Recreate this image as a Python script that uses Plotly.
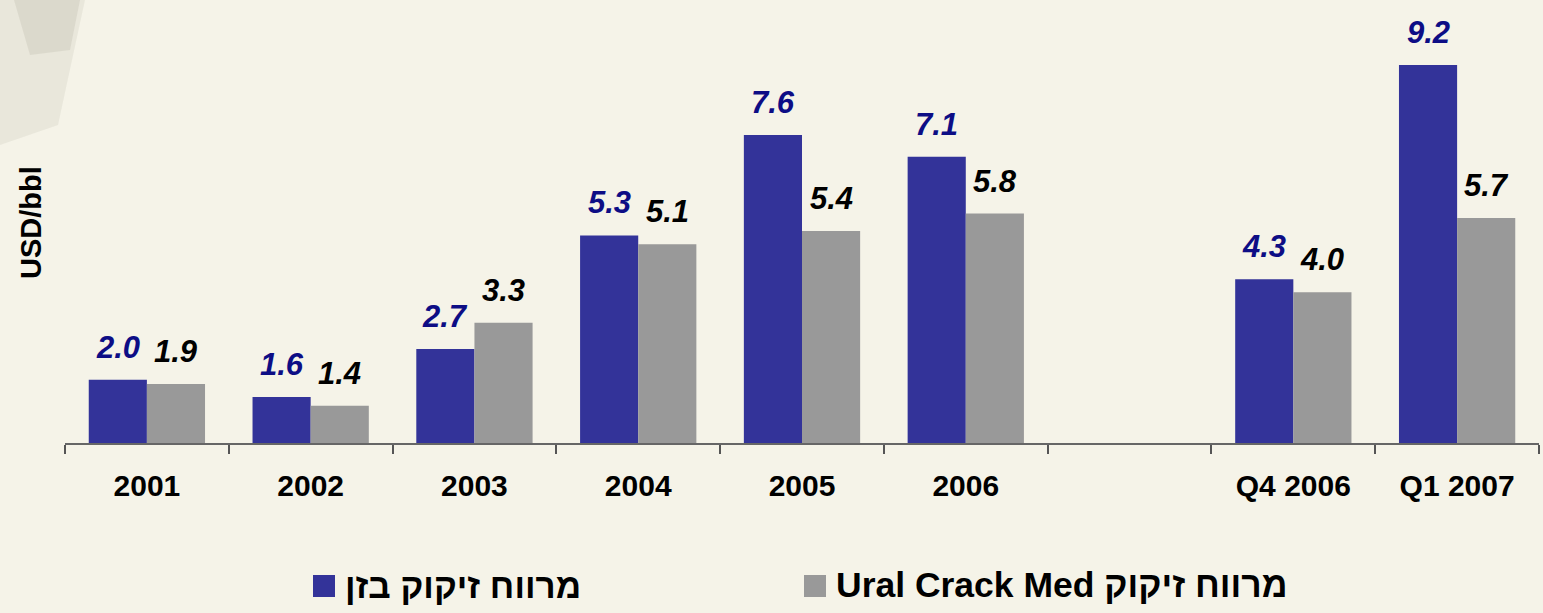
import plotly.graph_objects as go

# ---- data ----
categories = ["2001", "2002", "2003", "2004", "2005", "2006", " ", "Q4 2006", "Q1 2007"]
bazan_margin = [2.0, 1.6, 2.7, 5.3, 7.6, 7.1, None, 4.3, 9.2]
ural_margin = [1.9, 1.4, 3.3, 5.1, 5.4, 5.8, None, 4.0, 5.7]
series_names = ["מרווח זיקוק בזן", "Ural Crack Med מרווח זיקוק"]
y_title = "USD/bbl"

# ---- style / layout ----
W, H = 1543, 613
ML, MR, MT, MB = 65, 4, 20, 170
PW, PH = W - ML - MR, H - MT - MB
BLUE, GREY = "#333399", "#999999"
LABEL_BLUE = "#0d0d85"
BG = "#F5F3E8"
FONT = "Liberation Sans, Arial, sans-serif"
BARGAP = 0.29


def px_x(x):
    return (x - ML) / PW


def px_y(y):
    return (H - MB - y) / PH


fig = go.Figure()
fig.add_trace(go.Bar(x=categories, y=bazan_margin, name=series_names[0],
                     marker=dict(color=BLUE, line=dict(width=0)), showlegend=False))
fig.add_trace(go.Bar(x=categories, y=ural_margin, name=series_names[1],
                     marker=dict(color=GREY, line=dict(width=0)), showlegend=False))

annotations = []
off = (1 - BARGAP) / 4
for i, (a, b) in enumerate(zip(bazan_margin, ural_margin)):
    if a is not None:
        annotations.append(dict(x=i - off, y=a, xref="x", yref="y", text=f"{a:.1f}",
                                showarrow=False, yanchor="bottom", yshift=13,
                                font=dict(family=FONT, size=31, color=LABEL_BLUE,
                                          style="italic", weight="bold")))
    if b is not None:
        annotations.append(dict(x=i + off, y=b, xref="x", yref="y", text=f"{b:.1f}",
                                showarrow=False, yanchor="bottom", yshift=13,
                                font=dict(family=FONT, size=31, color="#000000",
                                          style="italic", weight="bold")))

# y-axis title
annotations.append(dict(x=px_x(31), y=px_y(223), xref="paper", yref="paper", text=y_title,
                        textangle=-90, showarrow=False, xanchor="center", yanchor="middle",
                        font=dict(family=FONT, size=29, color="#000000", weight="bold")))

# manual legend
shapes = []
legend_items = [(313, BLUE, series_names[0], 35), (804, GREY, series_names[1], 35.5)]
for x0, col, name, fs in legend_items:
    shapes.append(dict(type="rect", xref="paper", yref="paper",
                       x0=px_x(x0), x1=px_x(x0 + 22), y0=px_y(575), y1=px_y(597),
                       fillcolor=col, line=dict(width=0)))
    annotations.append(dict(x=px_x(x0 + 30), y=px_y(585), xref="paper", yref="paper",
                            text=name, showarrow=False, xanchor="left", yanchor="middle",
                            font=dict(family=FONT, size=fs, color="#000000", weight="bold")))

# faint decoration at top-left
shapes.append(dict(type="path", xref="paper", yref="paper", layer="below",
                   path=f"M {px_x(0)},{px_y(0)} L {px_x(85)},{px_y(0)} L {px_x(72)},{px_y(60)} "
                        f"L {px_x(58)},{px_y(125)} L {px_x(0)},{px_y(145)} Z",
                   fillcolor="rgba(150,145,130,0.12)", line=dict(width=0)))
shapes.append(dict(type="path", xref="paper", yref="paper", layer="below",
                   path=f"M {px_x(14)},{px_y(0)} L {px_x(80)},{px_y(0)} L {px_x(70)},{px_y(50)} "
                        f"L {px_x(30)},{px_y(55)} Z",
                   fillcolor="rgba(130,125,110,0.13)", line=dict(width=0)))

fig.update_layout(
    width=W, height=H,
    margin=dict(l=ML, r=MR, t=MT, b=MB, pad=0),
    paper_bgcolor=BG, plot_bgcolor=BG,
    barmode="group", bargap=BARGAP, bargroupgap=0,
    showlegend=False,
    annotations=annotations, shapes=shapes,
    font=dict(family=FONT, color="#000000"),
)
fig.update_xaxes(type="category", categoryorder="array", categoryarray=categories,
                 range=[-0.5, len(categories) - 0.5],
                 showline=True, linecolor="#666666", linewidth=2,
                 ticks="outside", tickson="boundaries", ticklen=9, tickwidth=1.5,
                 tickcolor="#555555", showgrid=False, zeroline=False,
                 ticklabelstandoff=15,
                 tickfont=dict(family=FONT, size=30, color="#000000", weight="bold"))
fig.update_yaxes(visible=False, range=[0.55, 0.55 + PH / 43.7], showgrid=False, zeroline=False)

fig.write_html("out.html", config={"displayModeBar": False},
               post_script="document.body.style.margin='0';"
                           "document.body.style.background='" + BG + "';")
